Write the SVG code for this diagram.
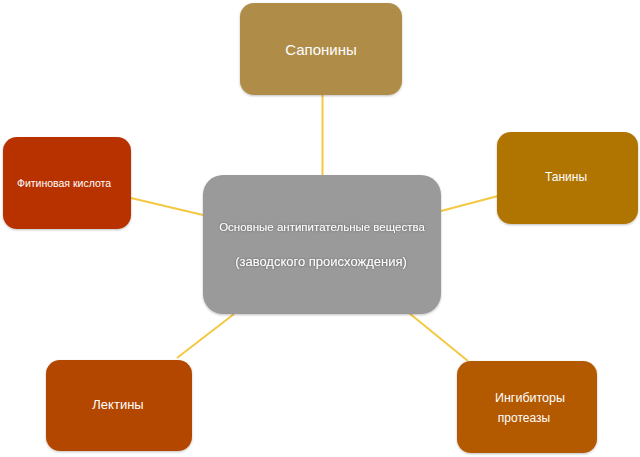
<svg xmlns="http://www.w3.org/2000/svg" width="640" height="457" viewBox="0 0 640 457">
<defs>
<filter id="ts" x="-10%" y="-50%" width="120%" height="200%">
<feDropShadow dx="0" dy="0" stdDeviation="0.8" flood-color="#555" flood-opacity="0.9"/>
</filter>
<filter id="bs" x="-10%" y="-10%" width="120%" height="125%">
<feDropShadow dx="0" dy="1" stdDeviation="1.2" flood-color="#000" flood-opacity="0.25"/>
</filter>
</defs>
<style>
.box{filter:url(#bs);}
.t{font-family:"Liberation Sans",Arial,sans-serif;fill:#ffffff;text-anchor:middle;}
.c{stroke:#F5C842;stroke-width:2;fill:none;}
</style>
<rect width="640" height="457" fill="#ffffff"/>
<g id="connectors">
<line class="c" x1="322.5" y1="95" x2="322.5" y2="175"/>
<line class="c" x1="131" y1="198" x2="203" y2="215"/>
<line class="c" x1="441" y1="211" x2="498" y2="196"/>
<line class="c" x1="234" y1="314" x2="177" y2="358"/>
<line class="c" x1="409" y1="313" x2="468" y2="361"/>
</g>
<g id="center">
<rect class="box" x="203" y="175" width="238" height="139" rx="20" fill="#9A9A9A"/>
<text class="t" x="322" y="231" font-size="11.5" filter="url(#ts)">Основные антипитательные вещества</text>
<text class="t" x="321" y="266" font-size="13" filter="url(#ts)">(заводского происхождения)</text>
</g>
<g id="saponins">
<rect class="box" x="240" y="3" width="162" height="92" rx="14" fill="#B08C48"/>
<text class="t" x="321" y="55" font-size="15">Сапонины</text>
</g>
<g id="phytic">
<rect class="box" x="3" y="137" width="128" height="92" rx="14" fill="#B83200"/>
<text class="t" x="64" y="187" font-size="10.5">Фитиновая кислота</text>
</g>
<g id="tannins">
<rect class="box" x="497" y="132" width="141" height="92" rx="14" fill="#B07400"/>
<text class="t" x="566" y="181" font-size="12">Танины</text>
</g>
<g id="lectins">
<rect class="box" x="46" y="360" width="146" height="91" rx="14" fill="#B34700"/>
<text class="t" x="118" y="409" font-size="13">Лектины</text>
</g>
<g id="inhibitors">
<rect class="box" x="457" y="361" width="140" height="92" rx="14" fill="#B35A00"/>
<text class="t" x="530" y="402" font-size="12.5">Ингибиторы</text>
<text class="t" x="524" y="422" font-size="12">протеазы</text>
</g>
</svg>
